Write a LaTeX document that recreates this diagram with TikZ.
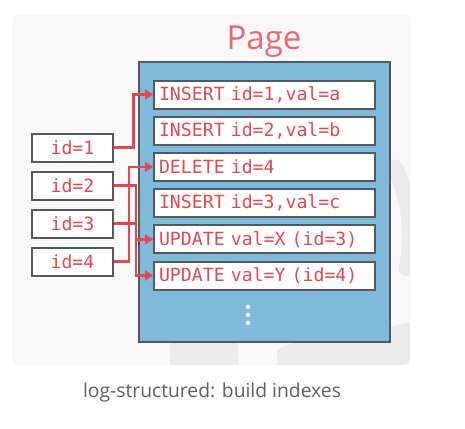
\documentclass[tikz,border=0pt]{standalone}
\usepackage{fontspec}
\setmainfont{Open Sans}
\setmonofont{DejaVu Sans Mono}
\usetikzlibrary{arrows.meta}

\definecolor{logred}{RGB}{226,72,82}
\definecolor{pagered}{RGB}{234,104,110}
\definecolor{pageblue}{RGB}{128,186,218}
\definecolor{boxgray}{RGB}{84,88,92}
\definecolor{cardgray}{RGB}{248,248,248}
\definecolor{markgray}{RGB}{234,234,234}
\definecolor{captiongray}{RGB}{95,95,95}

\tikzset{
  entry/.style={draw=boxgray, line width=2pt, fill=white, text=logred,
    font=\ttfamily\fontsize{18.2}{18.2}\selectfont, text width=211pt,
    inner sep=5pt, minimum height=28pt, align=left},
  keybox/.style={draw=boxgray, line width=2pt, fill=white, text=logred,
    font=\ttfamily\fontsize{18.2}{18.2}\selectfont, minimum width=81pt,
    minimum height=28pt, inner sep=0pt},
  link/.style={color=logred, line width=2.4pt, -{Triangle[length=8pt,width=10pt]}}
}

\begin{document}
\begin{tikzpicture}[x=1pt,y=-1pt]
  \useasboundingbox (0,0) rectangle (465,428);
  % Card
  \draw[cardgray!96!black, fill=cardgray, rounded corners=5pt] (13,15) rectangle (410,365);
  \begin{scope}
    \clip[rounded corners=5pt] (13,15) rectangle (410,365);
    % faint watermark
    \draw[markgray, line width=16pt, line cap=round] (250,235) ++(-25:160) arc[start angle=-25, end angle=12, radius=160];
    \fill[markgray, rounded corners=14pt] (170,336) rectangle (238,380);
    \fill[markgray] (277,370) -- (277,352) .. controls (280,340) and (330,340) .. (412,322) -- (412,370) -- cycle;
  \end{scope}

  % Page
  \def\entryx{264.5}
  \def\rowgap{36.2}
  \draw[boxgray, line width=2pt, fill=pageblue] (139,62) rectangle (390,342);
  \node[text=pagered, font=\fontsize{33}{33}\selectfont] (title) at (264,42) {Page};

  \node[entry] (e1) at (\entryx,94.5) {INSERT id=1,val=a};
  \node[entry] (e2) at (\entryx,94.5+\rowgap) {INSERT id=2,val=b};
  \node[entry] (e3) at (\entryx,94.5+2*\rowgap) {DELETE id=4};
  \node[entry] (e4) at (\entryx,94.5+3*\rowgap) {INSERT id=3,val=c};
  \node[entry] (e5) at (\entryx,94.5+4*\rowgap) {UPDATE val=X (id=3)};
  \node[entry] (e6) at (\entryx,94.5+5*\rowgap) {UPDATE val=Y (id=4)};

  % dots
  \foreach \y in {307,315,323}
    \fill[white] (248,\y) circle (2.2pt);

  % Index keys
  \node[keybox] (k1) at (72.5,147.5) {id=1};
  \node[keybox] (k2) at (72.5,185.5) {id=2};
  \node[keybox] (k3) at (72.5,223.5) {id=3};
  \node[keybox] (k4) at (72.5,261.5) {id=4};

  \draw[link] (k1.east) -- ++(19.5,0) |- (e1.west);
  \draw[link] (k2.east) -- ++(22,0) |- (e6.west);
  \draw[link] (k3.east) -- ++(22,0) |- (e5.west);
  \draw[link] (k4.east) -- ++(15,0) |- (e3.west);

  \node[text=captiongray, font=\fontsize{19.3}{19.3}\selectfont] (caption) at (212,392) {log-structured: build indexes};
\end{tikzpicture}
\end{document}
